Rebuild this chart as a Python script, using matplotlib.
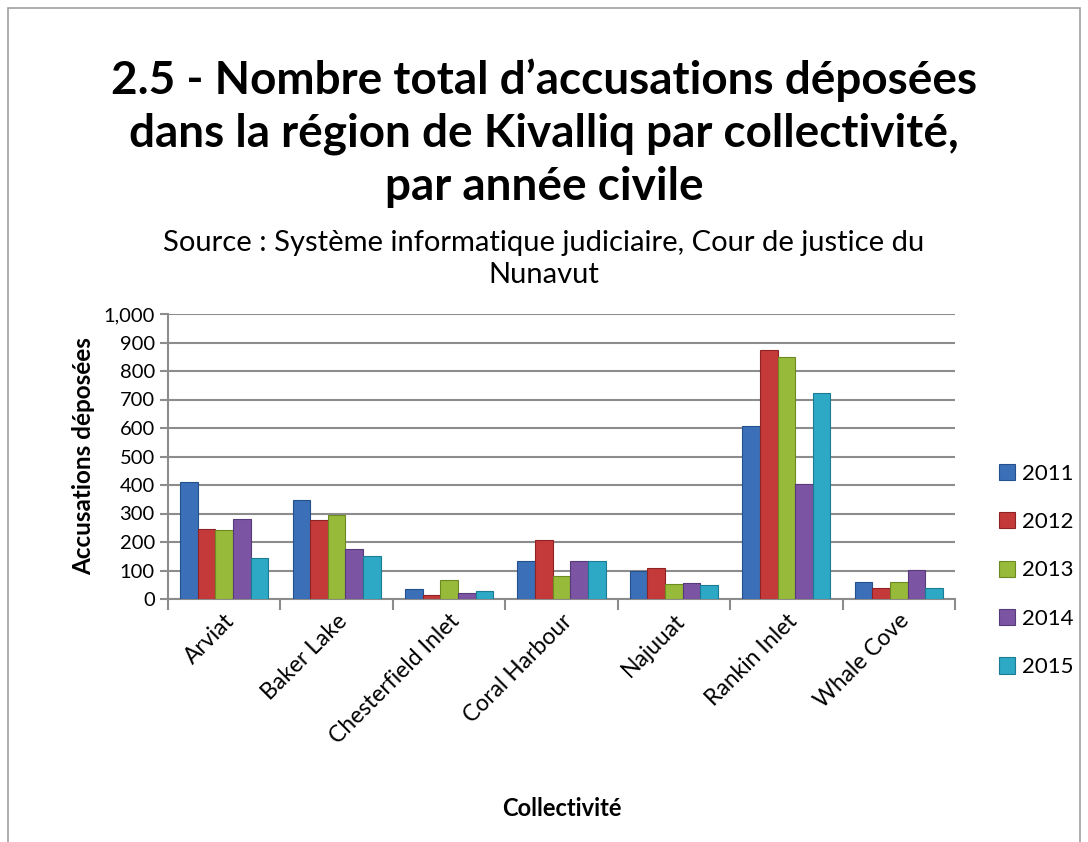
import numpy as np
import matplotlib.pyplot as plt
from matplotlib.patches import Rectangle

plt.rcParams["font.family"] = ["Lato", "DejaVu Sans"]

communities = ["Arviat", "Baker Lake", "Chesterfield Inlet", "Coral Harbour",
               "Najuuat", "Rankin Inlet", "Whale Cove"]
years = ["2011", "2012", "2013", "2014", "2015"]
v2011 = [411, 347, 35, 135, 100, 608, 58]
v2012 = [247, 278, 15, 206, 109, 874, 40]
v2013 = [242, 294, 65, 80, 51, 850, 60]
v2014 = [282, 174, 21, 133, 56, 405, 103]
v2015 = [143, 152, 29, 135, 49, 724, 39]
series = [v2011, v2012, v2013, v2014, v2015]
colors = ["#3b70b9", "#c43a3a", "#98ba3a", "#7b55a3", "#2da8c5"]
edges = ["#24508c", "#8f2323", "#6d8a22", "#573a7a", "#1a7d94"]

fig = plt.figure(figsize=(10.88, 8.42), dpi=100)
fig.patches.append(Rectangle((0.007, -0.01), 0.986, 1.0, transform=fig.transFigure,
                             fill=False, edgecolor="#a0a0a0", lw=1.2))

ax = fig.add_axes([168 / 1088, 1 - 599 / 842, (955 - 168) / 1088, (599 - 314) / 842])

x = np.arange(len(communities))
w = 0.157
for i, (vals, c, e) in enumerate(zip(series, colors, edges)):
    ax.bar(x + (i - 2) * w, vals, width=w, color=c, edgecolor=e, linewidth=0.8,
           label=years[i], zorder=3)

ax.set_xlim(-0.5, len(communities) - 0.5)
ax.set_ylim(0, 1000)
ax.set_yticks(range(0, 1001, 100))
ax.set_yticklabels([f"{v:,}" for v in range(0, 1001, 100)], fontsize=14.5)
ax.yaxis.grid(True, color="#8c8c8c", lw=1.5, zorder=0)
ax.set_axisbelow(True)

ax.set_xticks(x)
ax.set_xticklabels(communities, rotation=45, ha="right", rotation_mode="anchor",
                   fontsize=16.5)
ax.tick_params(axis="x", length=0, pad=8)
ax.set_xticks(np.arange(-0.5, len(communities)), minor=True)
ax.tick_params(axis="x", which="minor", length=8, color="#8c8c8c", width=1.5)
ax.tick_params(axis="y", length=6, color="#8c8c8c", width=1.5)

for s in ["top", "right"]:
    ax.spines[s].set_visible(False)
for s in ["left", "bottom"]:
    ax.spines[s].set_color("#8c8c8c")
    ax.spines[s].set_linewidth(1.5)

ax.set_ylabel("Accusations déposées", fontsize=17.5, fontweight="bold", labelpad=6)
ax.set_xlabel("Collectivité", fontsize=17, fontweight="bold")
ax.xaxis.set_label_coords(0.5, (599 - 797) / 285)

fig.text(0.5, 1 - 133 / 842,
         "2.5 - Nombre total d’accusations déposées\n"
         "dans la région de Kivalliq par collectivité,\n"
         "par année civile",
         ha="center", va="center", fontsize=33, fontweight="bold", linespacing=1.32)
fig.text(0.5, 1 - 259 / 842,
         "Source : Système informatique judiciaire, Cour de justice du\nNunavut",
         ha="center", va="center", fontsize=21, linespacing=1.3)

ax.legend(loc="center left", bbox_to_anchor=(1.03, 0.1), frameon=False,
          fontsize=16, handlelength=0.75, handleheight=0.75, labelspacing=1.28,
          handletextpad=0.3)

fig.savefig("out.png", dpi=100)
